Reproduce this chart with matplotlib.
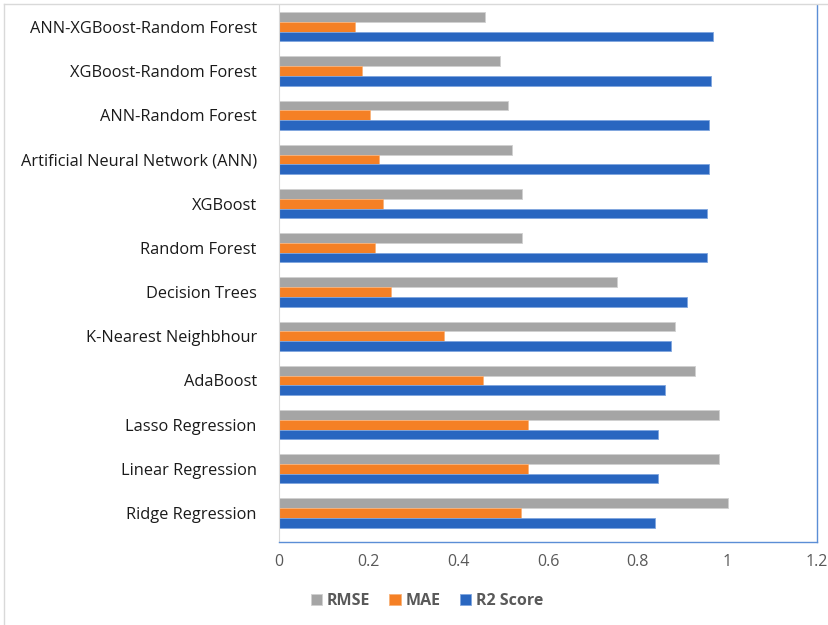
import numpy as np
import matplotlib
matplotlib.use('Agg')
import matplotlib.pyplot as plt
from matplotlib.lines import Line2D

# models listed bottom to top, as they stack on the y axis
models = ["Ridge Regression", "Linear Regression", "Lasso Regression", "AdaBoost",
          "K-Nearest Neighbhour", "Decision Trees", "Random Forest", "XGBoost",
          "Artificial Neural Network (ANN)", "ANN-Random Forest",
          "XGBoost-Random Forest", "ANN-XGBoost-Random Forest"]
rmse = [1.001, 0.981, 0.981, 0.928, 0.883, 0.755, 0.543, 0.541, 0.520, 0.511, 0.494, 0.459]
mae = [0.539, 0.555, 0.555, 0.456, 0.369, 0.250, 0.213, 0.232, 0.223, 0.203, 0.185, 0.170]
r2 = [0.839, 0.846, 0.846, 0.862, 0.875, 0.909, 0.954, 0.955, 0.959, 0.959, 0.963, 0.967]
xticks = [0, 0.2, 0.4, 0.6, 0.8, 1, 1.2]

plt.rcParams['font.family'] = ['Open Sans', 'DejaVu Sans']

fig = plt.figure(figsize=(8.29, 6.25), dpi=100)
ax = fig.add_axes([0.3366, 0.1328, 0.6489, 0.8592])

y = np.arange(len(models))
h = 0.22
ax.barh(y + h, rmse, height=h, color='#A5A5A5', edgecolor='#D0D0D0', linewidth=0.6, label='RMSE')
ax.barh(y, mae, height=h, color='#F58025', edgecolor='#F8B27A', linewidth=0.6, label='MAE')
ax.barh(y - h, r2, height=h, color='#2966C0', edgecolor='#7FA6DE', linewidth=0.6, label='R2 Score')

ax.set_xlim(0, 1.2)
ax.set_ylim(-0.655, len(models) - 0.505)
ax.set_xticks(xticks)
ax.set_xticklabels([f"{t:g}" for t in xticks], fontsize=11.5, color='#595959')
ax.set_yticks(y)
ax.set_yticklabels(models, fontsize=11.8, color='#1A1A1A')
ax.tick_params(axis='both', length=0)
ax.tick_params(axis='y', pad=16)
ax.tick_params(axis='x', pad=9)

for side in ['right', 'bottom']:
    ax.spines[side].set_color('#5B8ED6')
    ax.spines[side].set_linewidth(1.0)
ax.spines['left'].set_color('#D9D9D9')
ax.spines['top'].set_visible(False)

# outer chart frame
fig.add_artist(Line2D([0.005, 0.005], [0.0, 0.993], transform=fig.transFigure,
                      color='#D9D9D9', linewidth=1.0))
fig.add_artist(Line2D([0.005, 1.0], [0.993, 0.993], transform=fig.transFigure,
                      color='#D9D9D9', linewidth=1.0))

leg = fig.legend(loc='center', bbox_to_anchor=(0.515, 0.038), ncol=3, frameon=False,
                 handlelength=0.7, handleheight=0.7, handletextpad=0.3, columnspacing=1.2,
                 prop={'size': 11.5, 'weight': 'bold'})
for t in leg.get_texts():
    t.set_color('#595959')

fig.savefig('out.png', dpi=100)
